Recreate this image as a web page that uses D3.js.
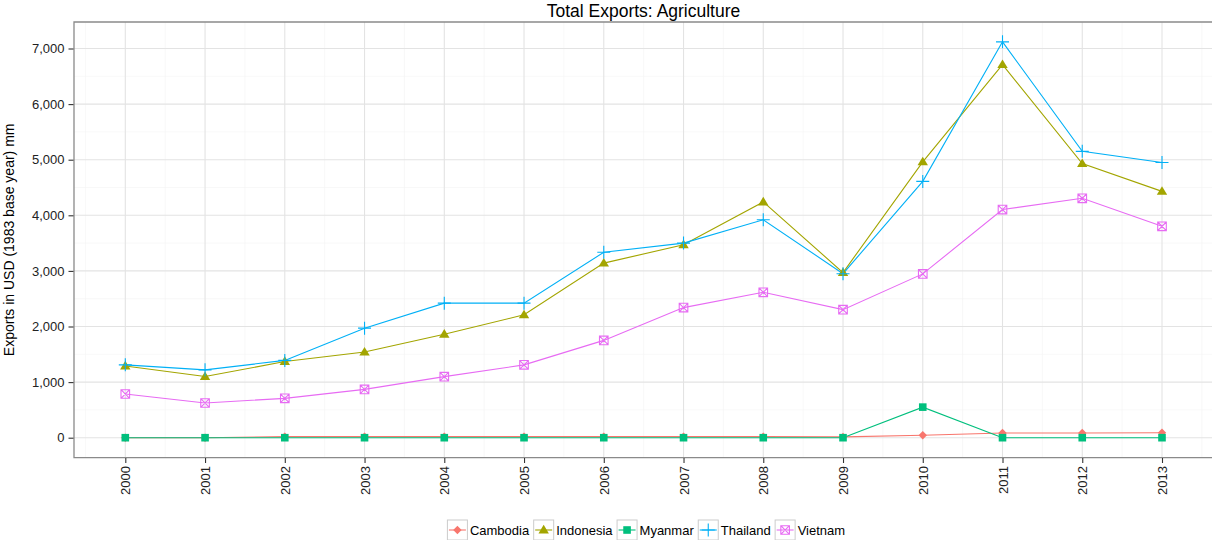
<!DOCTYPE html>
<html>
<head>
<meta charset="utf-8">
<script src="https://cdn.jsdelivr.net/npm/d3@7"></script>
<style>
  html, body { margin: 0; padding: 0; background: #fff; }
  svg { display: block; font-family: "Liberation Sans", Arial, sans-serif; }
</style>
</head>
<body>
<svg id="chart" width="1212" height="540"></svg>
<script>
// ---- data ----
const years = [2000, 2001, 2002, 2003, 2004, 2005, 2006, 2007, 2008, 2009, 2010, 2011, 2012, 2013];
const countries = ["Cambodia", "Indonesia", "Myanmar", "Thailand", "Vietnam"];
const cambodia  = [0, 0, 20, 20, 20, 20, 20, 20, 20, 15, 45, 85, 85, 88];
const indonesia = [1290, 1100, 1370, 1540, 1860, 2210, 3140, 3470, 4240, 2970, 4960, 6710, 4930, 4430];
const myanmar   = [0, 0, 0, 0, 0, 0, 0, 0, 0, 0, 550, 0, 0, 0];
const thailand  = [1310, 1220, 1390, 1970, 2420, 2420, 3335, 3500, 3920, 2950, 4610, 7120, 5150, 4950];
const vietnam   = [786, 624, 708, 869, 1098, 1310, 1750, 2340, 2615, 2303, 2946, 4103, 4306, 3802];
const yTicks = [0, 1000, 2000, 3000, 4000, 5000, 6000, 7000];
const yMinor = [500, 1500, 2500, 3500, 4500, 5500, 6500];
const titleText = "Total Exports: Agriculture";
const yTitle = "Exports in USD (1983 base year) mm";

const seriesValues = [cambodia, indonesia, myanmar, thailand, vietnam];
const colors = ["#F8766D", "#A3A500", "#00BF7D", "#00B0F6", "#E76BF3"];
const shapes = ["diamond", "triangle", "square", "plus", "squarecross"];

const series = countries.map((c, i) => ({
  name: c, color: colors[i], shape: shapes[i],
  values: years.map((y, j) => ({ year: y, value: seriesValues[i][j] }))
}));

// ---- layout ----
const svg = d3.select("#chart");
const panel = { left: 74, top: 22, right: 1214, bottom: 457.7 };

const x = d3.scaleLinear().domain([2000, 2013]).range([125.3, 1162]);
const y = d3.scaleLinear().domain([0, 7000]).range([437.7, 48.5]);

svg.append("rect").attr("x", panel.left).attr("y", panel.top)
  .attr("width", panel.right - panel.left).attr("height", panel.bottom - panel.top)
  .attr("fill", "#fff");

const grid = svg.append("g");
const xMinor = d3.range(1999.5, 2014, 1);
grid.selectAll(".xm").data(xMinor).enter().append("line")
  .attr("x1", d => x(d)).attr("x2", d => x(d))
  .attr("y1", panel.top).attr("y2", panel.bottom)
  .attr("stroke", "#f4f4f4").attr("stroke-width", 0.6);
grid.selectAll(".ym").data(yMinor).enter().append("line")
  .attr("x1", panel.left).attr("x2", panel.right)
  .attr("y1", d => y(d)).attr("y2", d => y(d))
  .attr("stroke", "#f4f4f4").attr("stroke-width", 0.6);
grid.selectAll(".xM").data(years).enter().append("line")
  .attr("x1", d => x(d)).attr("x2", d => x(d))
  .attr("y1", panel.top).attr("y2", panel.bottom)
  .attr("stroke", "#e3e3e3").attr("stroke-width", 1.1);
grid.selectAll(".yM").data(yTicks).enter().append("line")
  .attr("x1", panel.left).attr("x2", panel.right)
  .attr("y1", d => y(d)).attr("y2", d => y(d))
  .attr("stroke", "#e3e3e3").attr("stroke-width", 1.1);

// ---- lines ----
const line = d3.line().x(d => x(d.year)).y(d => y(d.value));
const lines = svg.append("g");
series.forEach(s => {
  lines.append("path").datum(s.values)
    .attr("d", line).attr("fill", "none")
    .attr("stroke", s.color).attr("stroke-width", 1.1);
});

// ---- points ----
function drawShape(g, shape, color, cx, cy, scale) {
  scale = scale || 1;
  if (shape === "diamond") {
    const r = 4.2 * scale;
    g.append("path").attr("d", `M${cx},${cy - r}L${cx + r},${cy}L${cx},${cy + r}L${cx - r},${cy}Z`)
      .attr("fill", color);
  } else if (shape === "triangle") {
    const w = 5.2 * scale, h = 8.6 * scale;
    g.append("path").attr("d", `M${cx},${cy - h * 0.6}L${cx + w},${cy + h * 0.4}L${cx - w},${cy + h * 0.4}Z`)
      .attr("fill", color);
  } else if (shape === "square") {
    const r = 3.8 * scale;
    g.append("rect").attr("x", cx - r).attr("y", cy - r).attr("width", 2 * r).attr("height", 2 * r)
      .attr("fill", color);
  } else if (shape === "plus") {
    const r = 6.5 * scale;
    g.append("path").attr("d", `M${cx - r},${cy}L${cx + r},${cy}M${cx},${cy - r}L${cx},${cy + r}`)
      .attr("stroke", color).attr("stroke-width", 1.1).attr("fill", "none");
  } else if (shape === "squarecross") {
    const r = 4.3 * scale;
    g.append("path").attr("d", `M${cx - r},${cy - r}L${cx + r},${cy - r}L${cx + r},${cy + r}L${cx - r},${cy + r}Z` +
      `M${cx - r},${cy - r}L${cx + r},${cy + r}M${cx + r},${cy - r}L${cx - r},${cy + r}`)
      .attr("stroke", color).attr("stroke-width", 1.1).attr("fill", "none");
  }
}
const points = svg.append("g");
series.forEach(s => {
  s.values.forEach(d => drawShape(points, s.shape, s.color, x(d.year), y(d.value)));
});

// ---- panel border ----
svg.append("path")
  .attr("d", `M${panel.right},${panel.top}L${panel.left},${panel.top}L${panel.left},${panel.bottom}L${panel.right},${panel.bottom}`)
  .attr("fill", "none").attr("stroke", "#8a8a8a").attr("stroke-width", 1.3);

// ---- axes ----
const yAxis = d3.axisLeft(y).tickValues(yTicks).tickSize(5).tickPadding(4)
  .tickFormat(d3.format(","));
const gy = svg.append("g").attr("transform", `translate(${panel.left - 0.5},0)`).call(yAxis);
gy.select(".domain").remove();
gy.selectAll(".tick line").attr("stroke", "#333").attr("stroke-width", 1.1);
gy.selectAll(".tick text").attr("fill", "#222").style("font-size", "13px");

const xAxis = d3.axisBottom(x).tickValues(years).tickSize(5).tickFormat(d3.format("d"));
const gx = svg.append("g").attr("transform", `translate(0,${panel.bottom + 0.3})`).call(xAxis);
gx.select(".domain").remove();
gx.selectAll(".tick line").attr("stroke", "#333").attr("stroke-width", 1.1);
gx.selectAll(".tick text")
  .attr("fill", "#222").style("font-size", "13px")
  .attr("text-anchor", "end")
  .attr("transform", "rotate(-90)")
  .attr("x", -8).attr("y", 0).attr("dy", "0.35em");

// ---- titles ----
svg.append("text").attr("x", 643.5).attr("y", 17)
  .attr("text-anchor", "middle").style("font-size", "17.5px").attr("fill", "#000")
  .text(titleText);

svg.append("text")
  .attr("transform", `translate(14,${(panel.top + panel.bottom) / 2}) rotate(-90)`)
  .attr("text-anchor", "middle").style("font-size", "14px").attr("fill", "#000")
  .text(yTitle);

// ---- legend ----
const legend = svg.append("g");
const keySize = 20;
let cursor = 0;
series.forEach(s => {
  const g = legend.append("g");
  g.append("rect").attr("x", cursor + 0.5).attr("y", 0.5).attr("width", keySize).attr("height", keySize)
    .attr("fill", "#fff").attr("stroke", "#cccccc").attr("stroke-width", 1);
  g.append("line").attr("x1", cursor + 2).attr("x2", cursor + keySize - 1)
    .attr("y1", keySize / 2 + 0.5).attr("y2", keySize / 2 + 0.5)
    .attr("stroke", s.color).attr("stroke-width", 1.1);
  drawShape(g, s.shape, s.color, cursor + keySize / 2 + 0.5, keySize / 2 + 0.5);
  const t = g.append("text").attr("x", cursor + keySize + 3).attr("y", keySize / 2 + 0.5)
    .attr("dy", "0.35em").style("font-size", "13px").attr("fill", "#000").text(s.name);
  const w = t.node().getComputedTextLength();
  cursor += keySize + 3 + w + 4;
});
const totalW = cursor - 4;
legend.attr("transform", `translate(${646 - totalW / 2},519.5)`);
</script>
</body>
</html>
